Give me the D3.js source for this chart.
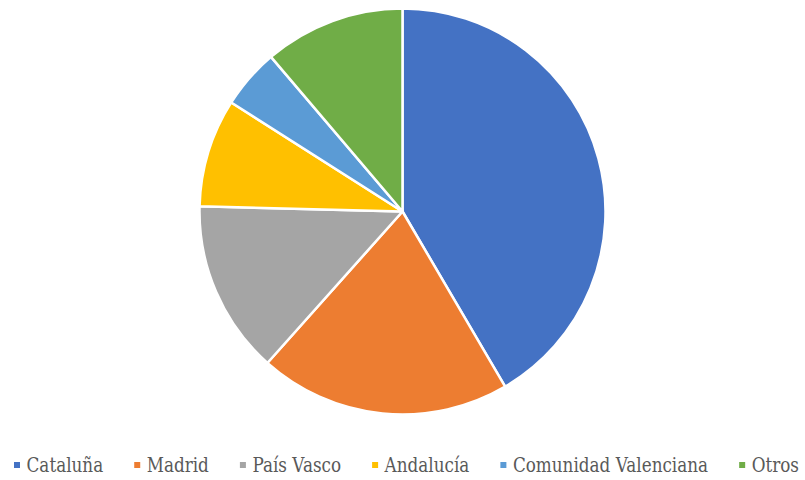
<!DOCTYPE html>
<html>
<head>
<meta charset="utf-8">
<script src="https://cdn.jsdelivr.net/npm/d3@7"></script>
<style>
  html, body { margin: 0; padding: 0; background: #fff; }
  svg { display: block; }
</style>
</head>
<body>
<svg id="chart" width="805" height="480"></svg>
<script>
// Regional shares (%)
const regions = ["Cataluña", "Madrid", "País Vasco", "Andalucía", "Comunidad Valenciana", "Otros"];
const shares = [41.5, 20.0, 13.8, 8.6, 4.75, 11.2];
const colors = ["#4472C4", "#ED7D31", "#A5A5A5", "#FFC000", "#5B9BD5", "#70AD47"];

const svg = d3.select("#chart");
const cx = 402.5, cy = 211.5, r = 203;

const pie = d3.pie().sort(null).value(d => d.v);
const arc = d3.arc().innerRadius(0).outerRadius(r);
const data = regions.map((name, i) => ({ name, v: shares[i], c: colors[i] }));

svg.append("g")
  .attr("transform", `translate(${cx},${cy})`)
  .selectAll("path")
  .data(pie(data))
  .join("path")
  .attr("d", arc)
  .attr("fill", d => d.data.c)
  .attr("stroke", "#fff")
  .attr("stroke-width", 2.5)
  .attr("stroke-linejoin", "round");

// Legend along the bottom: spans the width from left to right edge
const legendLeft = 14, legendRight = 799, gap = 31, textOffset = 12.5;
const legend = svg.append("g")
  .attr("font-family", "DejaVu Serif")
  .attr("font-size", 20).attr("fill", "#595959");
const items = legend.selectAll("g").data(data).join("g");
items.append("rect").attr("width", 6).attr("height", 6).attr("y", -10).attr("fill", d => d.c);
const labels = items.append("text").text(d => d.name);

// Condense the serif labels horizontally so the row fits the available span
const natural = [];
labels.each(function () { natural.push(this.getComputedTextLength()); });
const avail = (legendRight - legendLeft) - gap * (data.length - 1) - textOffset * data.length;
const k = avail / d3.sum(natural);
labels.attr("transform", `translate(${textOffset},0) scale(${k},1)`);

let x = legendLeft;
items.attr("transform", (d, i) => {
  const t = `translate(${x},472)`;
  x += textOffset + natural[i] * k + gap;
  return t;
});
</script>
</body>
</html>
